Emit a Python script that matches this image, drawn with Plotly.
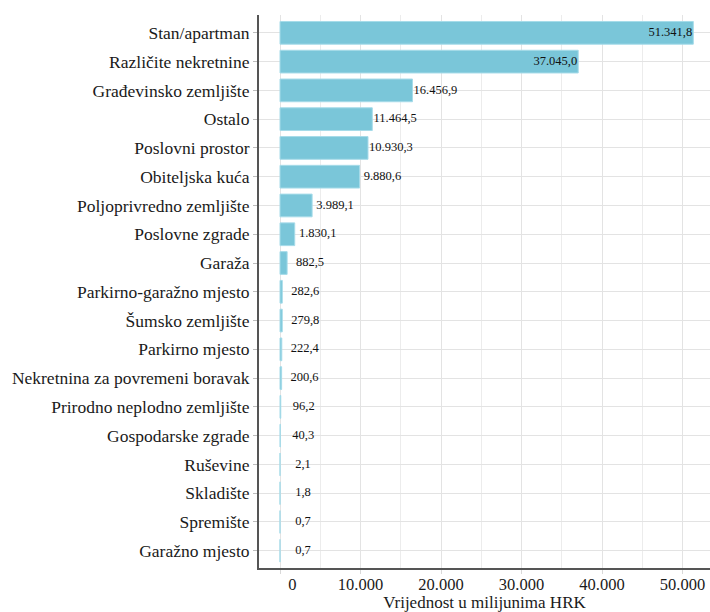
import plotly.graph_objects as go

categories = [
    "Stan/apartman", "Različite nekretnine", "Građevinsko zemljište", "Ostalo",
    "Poslovni prostor", "Obiteljska kuća", "Poljoprivredno zemljište",
    "Poslovne zgrade", "Garaža", "Parkirno-garažno mjesto", "Šumsko zemljište",
    "Parkirno mjesto", "Nekretnina za povremeni boravak",
    "Prirodno neplodno zemljište", "Gospodarske zgrade", "Ruševine",
    "Skladište", "Spremište", "Garažno mjesto",
]
values = [
    51341.8, 37045.0, 16456.9, 11464.5, 10930.3, 9880.6, 3989.1, 1830.1,
    882.5, 282.6, 279.8, 222.4, 200.6, 96.2, 40.3, 2.1, 1.8, 0.7, 0.7,
]
x_ticks = [0, 10000, 20000, 30000, 40000, 50000]
x_tick_labels = ["\u2007\u2007\u20070", "10.000", "20.000", "30.000", "40.000", "50.000"]

NUDGE = 2850  # label nudge (data units), like ggplot nudge_x


def fmt(v):
    s = f"{v:,.1f}"
    return s.replace(",", "X").replace(".", ",").replace("X", ".")


labels = [fmt(v) for v in values]
label_x = [v - NUDGE if v > 30000 else v + NUDGE for v in values]

FONT = "Liberation Serif, Times New Roman, serif"

fig = go.Figure()
fig.add_trace(
    go.Bar(
        x=values,
        y=categories,
        orientation="h",
        width=0.79,
        marker=dict(color="#7ac6d9", line=dict(color="#a6dbe9", width=1)),
        hoverinfo="skip",
    )
)
fig.add_trace(
    go.Scatter(
        x=label_x,
        y=categories,
        mode="text",
        text=labels,
        textposition="middle center",
        textfont=dict(family=FONT, size=12.5, color="#111111"),
        cliponaxis=False,
        hoverinfo="skip",
    )
)

fig.update_layout(
    width=710,
    height=612,
    margin=dict(l=259, r=0, t=15, b=44),
    plot_bgcolor="white",
    paper_bgcolor="white",
    showlegend=False,
    font=dict(family=FONT, color="#1a1a1a"),
)

fig.update_xaxes(
    automargin=False,
    range=[-2609, 53416],
    tickvals=x_ticks,
    ticktext=x_tick_labels,
    tickfont=dict(family=FONT, size=16.5, color="#1a1a1a"),
    ticklabelstandoff=-4,
    showgrid=True,
    gridcolor="#e3e3e3",
    gridwidth=1,
    minor=dict(dtick=5000, tick0=5000, showgrid=True, gridcolor="#ececec", gridwidth=1),
    ticks="outside",
    ticklen=4,
    tickcolor="#d9d9d9",
    showline=True,
    linecolor="#555555",
    linewidth=2,
    zeroline=False,
    title=dict(text="Vrijednost u milijunima HRK", font=dict(family=FONT, size=17, color="#1a1a1a"), standoff=0),
)

fig.update_yaxes(
    automargin=False,
    categoryorder="array",
    categoryarray=categories,
    range=[18.6, -0.62],
    tickfont=dict(family=FONT, size=17.5, color="#1a1a1a"),
    showgrid=True,
    gridcolor="#e3e3e3",
    gridwidth=1,
    ticks="outside",
    ticklen=4,
    tickcolor="#bdbdbd",
    showline=True,
    linecolor="#555555",
    linewidth=2,
    zeroline=False,
)

fig.write_html(
    "out.html",
    config={"displayModeBar": False},
    post_script="document.body.style.margin='0';",
)
